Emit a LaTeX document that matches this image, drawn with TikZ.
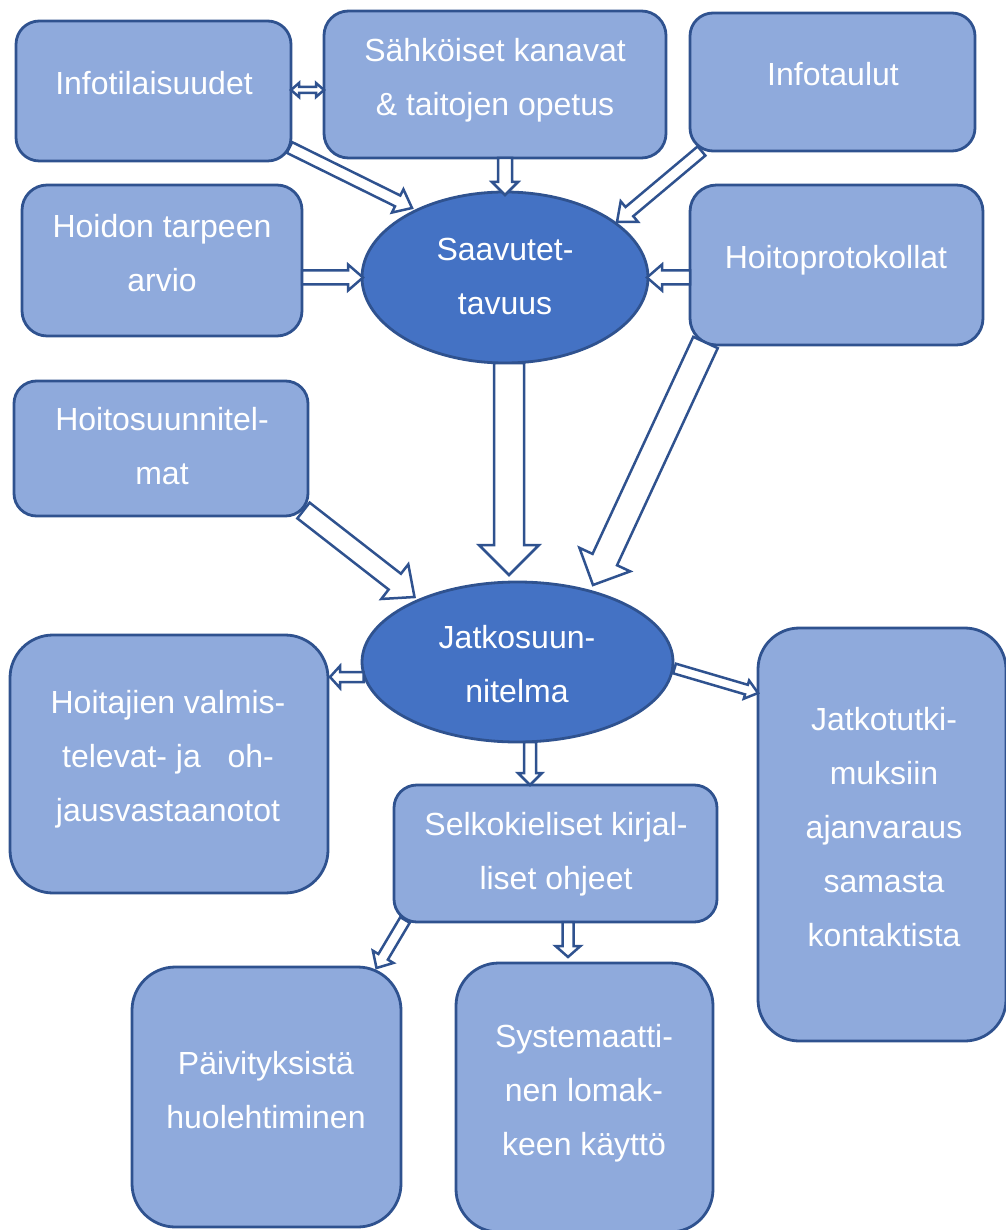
\documentclass[tikz,border=0pt]{standalone}
\usepackage{fontspec}
\setmainfont{Liberation Sans}
\usetikzlibrary{calc,shapes.geometric}
\definecolor{boxfill}{HTML}{8FAADC}
\definecolor{ovalfill}{HTML}{4472C4}
\definecolor{edgeblue}{HTML}{2F528F}

\tikzset{
  box/.style={draw=edgeblue, fill=boxfill, line width=2.8pt, inner sep=0pt, outer sep=0pt},
  oval/.style={ellipse, draw=edgeblue, fill=ovalfill, line width=2.8pt, inner sep=0pt, outer sep=0pt},
  lbl/.style={font=\fontsize{32}{54}\selectfont, text=white, align=center, inner sep=0pt},
  blockar/.style={draw=edgeblue, fill=white, line width=2.5pt, line join=miter},
}

% rounded box: name, left, top, right, bottom (corner radius = 1/6 of the shorter side)
\newcommand\rbox[5]{%
  \pgfmathsetmacro\bw{#4-#2}\pgfmathsetmacro\bh{#5-#3}\pgfmathsetmacro\br{min(\bw,\bh)/6}%
  \node[box, rounded corners=\br pt, minimum width=\bw pt, minimum height=\bh pt,
        anchor=north west] (#1) at (#2,#3) {};}

% hollow block arrow: from, to, shaft half width, head half width, head length
\newcommand\blockarrow[5]{%
  \draw[blockar] let \p1=(#1), \p2=(#2),
    \n1={atan2(\y2-\y1,\x2-\x1)}, \n2={veclen(\x2-\x1,\y2-\y1)} in
    ($(\p1)+({\n1+90}:#3pt)$)
    -- ($(\p1)+(\n1:{\n2-#5pt})+({\n1+90}:#3pt)$)
    -- ($(\p1)+(\n1:{\n2-#5pt})+({\n1+90}:#4pt)$)
    -- (\p2)
    -- ($(\p1)+(\n1:{\n2-#5pt})+({\n1-90}:#4pt)$)
    -- ($(\p1)+(\n1:{\n2-#5pt})+({\n1-90}:#3pt)$)
    -- ($(\p1)+({\n1-90}:#3pt)$) -- cycle;}

% hollow double-headed block arrow: end, end, shaft half width, head half width, head length
\newcommand\blockdarrow[5]{%
  \draw[blockar] let \p1=(#1), \p2=(#2),
    \n1={atan2(\y2-\y1,\x2-\x1)}, \n2={veclen(\x2-\x1,\y2-\y1)} in
    (\p1)
    -- ($(\p1)+(\n1:#5pt)+({\n1+90}:#4pt)$)
    -- ($(\p1)+(\n1:#5pt)+({\n1+90}:#3pt)$)
    -- ($(\p1)+(\n1:{\n2-#5pt})+({\n1+90}:#3pt)$)
    -- ($(\p1)+(\n1:{\n2-#5pt})+({\n1+90}:#4pt)$)
    -- (\p2)
    -- ($(\p1)+(\n1:{\n2-#5pt})+({\n1-90}:#4pt)$)
    -- ($(\p1)+(\n1:{\n2-#5pt})+({\n1-90}:#3pt)$)
    -- ($(\p1)+(\n1:#5pt)+({\n1-90}:#3pt)$)
    -- ($(\p1)+(\n1:#5pt)+({\n1-90}:#4pt)$)
    -- cycle;}

\begin{document}
\begin{tikzpicture}[x=1pt, y=-1pt]
\useasboundingbox (0,0) rectangle (1005,1230);

% boxes
\rbox{info}{16}{21}{291}{161}
\rbox{sahko}{324}{11}{666}{158}
\rbox{taulut}{690}{13}{975}{151}
\rbox{hoidon}{22}{185}{302}{336}
\rbox{protok}{690}{185}{983}{345}
\rbox{suunn}{14}{381}{308}{516}
\rbox{hoitajat}{10}{635}{328}{893}
\rbox{tutki}{758}{628}{1006}{1041}
\rbox{selko}{394}{785}{717}{922}
\rbox{paiv}{132}{967}{401}{1227}
\rbox{syst}{456}{963}{713}{1232}

% ovals
\node[oval, minimum width=286pt, minimum height=171pt] (saav) at (505,277.5) {};
\node[oval, minimum width=311pt, minimum height=160pt] (jatko) at (517.5,662) {};

% texts
\node[lbl] (info-t) at (154,83.5) {Infotilaisuudet};
\node[lbl] (sahko-t) at (495,80) {Sähköiset kanavat\\\& taitojen opetus};
\node[lbl] (taulut-t) at (833,74.5) {Infotaulut};
\node[lbl] (hoidon-t) at (162,253.5) {Hoidon tarpeen\\arvio};
\node[lbl] (saav-t) at (505,276.5) {Saavutet-\\tavuus};
\node[lbl] (protok-t) at (836,260) {Hoitoprotokollat};
\node[lbl] (suunn-t) at (162,446) {Hoitosuunnitel-\\mat};
\node[lbl] (jatko-t) at (517,664.5) {Jatkosuun-\\nitelma};
\node[lbl] (hoitajat-t) at (168,759.5) {Hoitajien valmis-\\televat- ja~~~oh-\\jausvastaanotot};
\node[lbl] (tutki-t) at (884,827.5) {Jatkotutki-\\muksiin\\ajanvaraus\\samasta\\kontaktista};
\node[lbl] (selko-t) at (556,854) {Selkokieliset kirjal-\\liset ohjeet};
\node[lbl] (paiv-t) at (266,1090) {Päivityksistä\\huolehtiminen};
\node[lbl] (syst-t) at (584,1093.5) {Systemaatti-\\nen lomak-\\keen käyttö};

% arrows
\blockdarrow{$(info.east)+(0,-1)$}{$(sahko.west |- info.east)+(0,-1)$}{3}{7}{8}
\blockarrow{$(info.south east)+(-1.5,-13.5)$}{$(saav.center)+(-93,-69.5)$}{6}{13}{16}
\blockarrow{saav.north |- sahko.south}{$(saav.north)+(0,3)$}{7}{13}{13}
\blockarrow{$(taulut.south west)+(11.5,0)$}{$(saav.center)+(112,-55.5)$}{6}{13.5}{16}
\blockarrow{hoidon.east |- saav.west}{$(saav.west)+(1,0)$}{7}{13}{15}
\blockarrow{protok.west |- saav.east}{$(saav.east)+(-1,0)$}{7}{13}{15}
\blockarrow{$(saav.south)+(4,0)$}{$(saav.south |- jatko.north)+(4,-7)$}{15}{30}{30}
\blockarrow{$(protok.south west)+(15.5,-2.5)$}{$(jatko.center)+(75.5,-77)$}{13.5}{28}{28}
\blockarrow{$(suunn.south east)+(-4.5,-5.5)$}{$(jatko.center)+(-103,-65)$}{10}{22}{25}
\blockarrow{$(jatko.west)+(1.5,15)$}{$(hoitajat.east |- jatko.west)+(2,15)$}{5}{11}{10}
\blockarrow{$(jatko.east)+(1.5,6.5)$}{$(tutki.north west)+(0,65)$}{5}{9.5}{12}
\blockarrow{$(jatko.south)+(12.5,0)$}{$(selko.north)+(-25.5,0)$}{6}{12}{12}
\blockarrow{$(selko.south west)+(11,-2)$}{$(paiv.north)+(110,1)$}{5.5}{12}{13}
\blockarrow{$(selko.south)+(12.5,0)$}{$(selko.south)+(12.5,35)$}{5.5}{12.5}{11}
\end{tikzpicture}
\end{document}
